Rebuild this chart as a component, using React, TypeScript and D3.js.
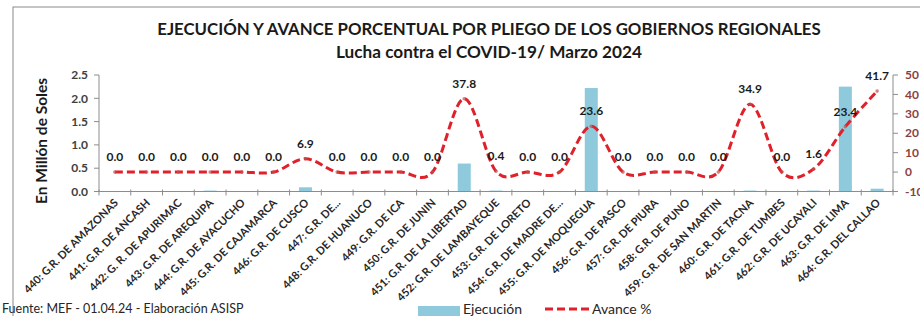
import React from "react";
import * as d3 from "d3";

const categories = [
  "440: G.R. DE AMAZONAS",
  "441: G.R. DE ANCASH",
  "442: G. R. DE APURIMAC",
  "443: G.R. DE AREQUIPA",
  "444: G.R. DE AYACUCHO",
  "445: G.R. DE CAJAMARCA",
  "446: G.R. DE CUSCO",
  "447: G.R. DE...",
  "448: G.R. DE HUANUCO",
  "449: G.R. DE ICA",
  "450: G.R. DE JUNIN",
  "451: G.R. DE LA LIBERTAD",
  "452: G.R. DE LAMBAYEQUE",
  "453: G.R. DE LORETO",
  "454: G.R. DE MADRE DE...",
  "455: G.R. DE MOQUEGUA",
  "456: G.R. DE PASCO",
  "457: G.R. DE PIURA",
  "458: G.R. DE PUNO",
  "459: G.R. DE SAN MARTIN",
  "460: G.R. DE TACNA",
  "461: G.R. DE TUMBES",
  "462: G.R. DE UCAYALI",
  "463: G.R. DE LIMA",
  "464: G.R. DEL CALLAO",
];

const ejecucion = [
  0, 0, 0, 0.02, 0, 0, 0.09, 0, 0, 0, 0, 0.6, 0.02, 0, 0, 2.22, 0, 0, 0, 0,
  0.02, 0, 0.02, 2.25, 0.06,
];

const avance = [
  0.0, 0.0, 0.0, 0.0, 0.0, 0.0, 6.9, 0.0, 0.0, 0.0, 0.0, 37.8, 0.4, 0.0, 0.0,
  23.6, 0.0, 0.0, 0.0, 0.0, 34.9, 0.0, 1.6, 23.4, 41.7,
];

const leftTicks = [0, 0.5, 1.0, 1.5, 2.0, 2.5];
const rightTicks = [-10, 0, 10, 20, 30, 40, 50];

const title1 = "EJECUCIÓN Y AVANCE PORCENTUAL POR PLIEGO DE LOS GOBIERNOS REGIONALES";
const title2 = "Lucha contra el COVID-19/ Marzo 2024";
const yTitle = "En Millón de Soles";
const footer = "Fuente:  MEF  - 01.04.24 - Elaboración ASISP";
const legendBar = "Ejecución";
const legendLine = "Avance %";

const FONT = "Lato, 'Open Sans', sans-serif";
const BAR = "#8ecadb";
const LINE = "#e0202a";
const AXIS = "#8c8c8c";

export default function App() {
  const W = 920;
  const H = 316;
  const left = 99;
  const right = 893;
  const top = 75;
  const bottom = 191.5;

  const x = d3.scaleBand<string>().domain(categories).range([left, right]).padding(0);
  const bw = x.bandwidth();
  const yL = d3.scaleLinear().domain([0, 2.5]).range([bottom, top]);
  const yR = d3.scaleLinear().domain([-10, 50]).range([bottom, top]);

  const pts: [number, number][] = avance.map((v, i) => [
    (x(categories[i]) as number) + bw / 2,
    yR(v),
  ]);
  const line = d3.line().curve(d3.curveCatmullRom.alpha(0))(pts) || "";

  const barW = bw * 0.41;

  return (
    <svg
      width={W}
      height={H}
      style={{ position: "absolute", left: 0, top: 0, background: "#fff" }}
      fontFamily={FONT}
    >
      <rect x={0} y={0} width={W} height={H} fill="#fff" />
      <rect x={13} y={7} width={W} height={H} fill="none" stroke="#8a8a8a" strokeWidth={1} />

      <text x={489} y={35} textAnchor="middle" fontWeight="bold" fontSize={16.8} fill="#1a1a1a">
        {title1}
      </text>
      <text x={489} y={58} textAnchor="middle" fontWeight="bold" fontSize={17.2} fill="#1a1a1a">
        {title2}
      </text>

      {/* y axis title */}
      <text
        transform={`translate(47,141) rotate(-90)`}
        textAnchor="middle"
        fontWeight="bold"
        fontSize={15.5}
        fill="#1a1a1a"
      >
        {yTitle}
      </text>

      {/* bars */}
      {ejecucion.map((v, i) => (
        <rect
          key={"b" + i}
          x={(x(categories[i]) as number) + bw / 2 - barW / 2}
          y={yL(v)}
          width={barW}
          height={Math.max(0, bottom - yL(v))}
          fill={BAR}
        />
      ))}

      {/* left axis */}
      <line x1={left} x2={left} y1={top} y2={bottom} stroke={AXIS} />
      {leftTicks.map((t) => (
        <g key={"l" + t}>
          <line x1={left - 5} x2={left} y1={yL(t)} y2={yL(t)} stroke={AXIS} />
          <text
            x={left - 11}
            y={yL(t)}
            dy="0.35em"
            textAnchor="end"
            fontSize={12}
            fontWeight="bold"
            fill="#404040"
          >
            {t.toFixed(1)}
          </text>
        </g>
      ))}

      {/* right axis */}
      <line x1={right} x2={right} y1={top} y2={bottom} stroke={AXIS} />
      {rightTicks.map((t) => (
        <g key={"r" + t}>
          <line x1={right} x2={right + 5} y1={yR(t)} y2={yR(t)} stroke={AXIS} />
          <text
            x={right + 12}
            y={yR(t)}
            dy="0.35em"
            textAnchor="start"
            fontSize={12}
            fontWeight="bold"
            fill="#8a3f3f"
          >
            {t}
          </text>
        </g>
      ))}

      {/* x axis */}
      <line x1={left} x2={right} y1={bottom} y2={bottom} stroke={AXIS} />
      {d3.range(categories.length + 1).map((i) => (
        <line
          key={"t" + i}
          x1={left + i * bw}
          x2={left + i * bw}
          y1={bottom - 2}
          y2={bottom + 4}
          stroke={AXIS}
        />
      ))}
      {categories.map((c) => {
        const cx = (x(c) as number) + bw / 2 + 4;
        const cy = bottom + 12;
        return (
          <text
            key={"x" + c}
            transform={`translate(${cx},${cy}) rotate(-45)`}
            textAnchor="end"
            fontSize={11}
            fontWeight="bold"
            fill="#262626"
          >
            {c}
          </text>
        );
      })}

      {/* line */}
      <path d={line} fill="none" stroke={LINE} strokeWidth={3} strokeDasharray="8,4" />
      {pts.map((p, i) => (
        <circle key={"p" + i} cx={p[0]} cy={p[1]} r={1.8} fill="#c0504d" opacity={0.7} />
      ))}
      {pts.map((p, i) => (
        <text
          key={"v" + i}
          x={p[0]}
          y={p[1] - 11}
          textAnchor="middle"
          fontSize={12}
          fontWeight="bold"
          fill="#1a1a1a"
        >
          {avance[i].toFixed(1)}
        </text>
      ))}

      {/* footer */}
      <text x={2} y={313} fontSize={12.5} fill="#262626">
        {footer}
      </text>

      {/* legend */}
      <rect x={418} y={306} width={42} height={12} fill={BAR} />
      <text x={463} y={314} fontSize={14} fill="#262626">
        {legendBar}
      </text>
      <line x1={545} x2={590} y1={309} y2={309} stroke={LINE} strokeWidth={3} strokeDasharray="8,4" />
      <text x={592} y={314} fontSize={14} fill="#262626">
        {legendLine}
      </text>
    </svg>
  );
}
